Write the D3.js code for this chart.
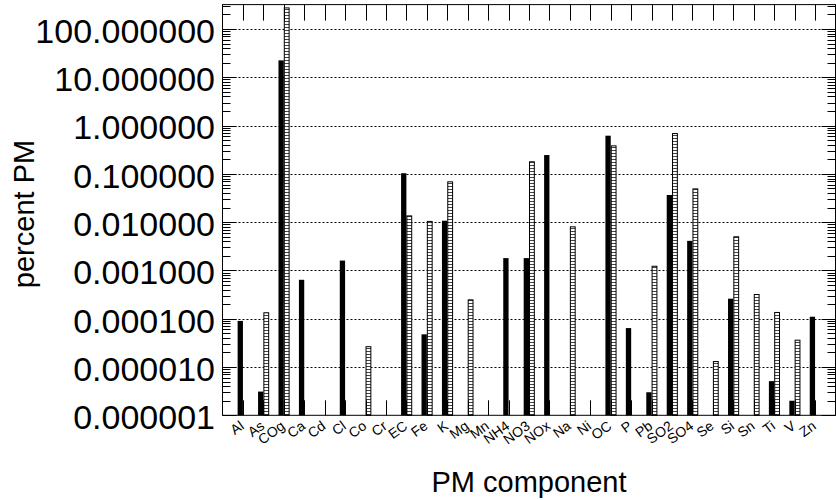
<!DOCTYPE html>
<html>
<head>
<meta charset="utf-8">
<script src="https://cdn.jsdelivr.net/npm/d3@7"></script>
<style>
  html, body { margin: 0; padding: 0; background: #fff; }
  svg { display: block; font-family: "Liberation Sans", Arial, sans-serif; }
</style>
</head>
<body>
<div id="chart"></div>
<script>
// ---- data ----
const categories = ["Al","As","COg","Ca","Cd","Cl","Co","Cr","EC","Fe","K","Mg","Mn","NH4","NO3","NOx","Na","Ni","OC","P","Pb","SO2","SO4","Se","Si","Sn","Ti","V","Zn"];
const solidValues = [9.0e-5, 3.1e-6, 22.4, 6.4e-4, null, 1.6e-3, null, null, 0.103, 4.75e-5, 0.0107, null, null, 1.8e-3, 1.8e-3, 0.245, null, null, 0.617, 6.4e-5, 3.0e-6, 0.0365, 0.0041, null, 2.6e-4, null, 5.1e-6, 2.0e-6, 1.1e-4];
const hatchedValues = [null, 1.36e-4, 280, null, null, null, 2.7e-5, null, 0.0138, 0.0106, 0.070, 2.52e-4, null, null, 0.182, null, 0.0082, null, 0.389, null, 1.25e-3, 0.70, 0.050, 1.33e-5, 0.0051, 3.25e-4, 1.38e-4, 3.68e-5, null];
const yTickValues = [1e2, 1e1, 1, 1e-1, 1e-2, 1e-3, 1e-4, 1e-5, 1e-6];
const yTickLabels = ["100.000000","10.000000","1.000000","0.100000","0.010000","0.001000","0.000100","0.000010","0.000001"];
const yDomain = [1e-6, 320];
const xTitle = "PM component";
const yTitle = "percent PM";

// ---- layout ----
const W = 836, H = 500;
const pLeft = 222.5, pRight = 835.5, pTop = 4.6, pBottom = 415.3;

const svg = d3.select("#chart").append("svg").attr("width", W).attr("height", H);

const x = d3.scalePoint().domain(categories).range([pLeft, pRight]).padding(1);
const y = d3.scaleLog().domain(yDomain).range([pBottom, pTop]);
const step = x.step();
const bw = step * 0.26;

const defs = svg.append("defs");
const pat = defs.append("pattern").attr("id", "hatch").attr("patternUnits", "userSpaceOnUse")
  .attr("width", 8).attr("height", 3);
pat.append("rect").attr("width", 8).attr("height", 3).attr("fill", "#fff");
pat.append("line").attr("x1", 0).attr("x2", 8).attr("y1", 0.5).attr("y2", 0.5)
  .attr("stroke", "#444").attr("stroke-width", 1);

// gridlines
const gridVals = yTickValues.filter(v => v > yDomain[0]);
svg.append("g").selectAll("line").data(gridVals).join("line")
  .attr("x1", pLeft).attr("x2", pRight)
  .attr("y1", d => Math.round(y(d)) + 0.5).attr("y2", d => Math.round(y(d)) + 0.5)
  .attr("stroke", "#000").attr("stroke-width", 1).attr("stroke-dasharray", "2,2");

// bars
const idx = d3.range(categories.length);
svg.append("g").selectAll("rect").data(idx.filter(i => solidValues[i] != null)).join("rect")
  .attr("x", i => x(categories[i]) - bw)
  .attr("width", bw)
  .attr("y", i => y(solidValues[i]))
  .attr("height", i => pBottom - y(solidValues[i]))
  .attr("fill", "#000");

svg.append("g").selectAll("rect").data(idx.filter(i => hatchedValues[i] != null)).join("rect")
  .attr("x", i => x(categories[i]) + 0.5)
  .attr("width", bw - 0.5)
  .attr("y", i => y(hatchedValues[i]) + 0.5)
  .attr("height", i => pBottom - y(hatchedValues[i]) - 0.5)
  .attr("fill", "url(#hatch)")
  .attr("stroke", "#000").attr("stroke-width", 1);

// minor ticks
const minorVals = [];
for (let d = -6; d <= 2; d++) for (let k = 2; k <= 9; k++) {
  const v = k * Math.pow(10, d);
  if (v <= yDomain[1]) minorVals.push(v);
}
const ticksG = svg.append("g").attr("stroke", "#000").attr("stroke-width", 1);
minorVals.forEach(v => {
  const yy = Math.round(y(v)) + 0.5;
  ticksG.append("line").attr("x1", pLeft).attr("x2", pLeft + 8).attr("y1", yy).attr("y2", yy);
  ticksG.append("line").attr("x1", pRight - 8).attr("x2", pRight).attr("y1", yy).attr("y2", yy);
});
yTickValues.forEach(v => {
  const yy = Math.round(y(v)) + 0.5;
  ticksG.append("line").attr("x1", pLeft).attr("x2", pLeft + 14).attr("y1", yy).attr("y2", yy);
  ticksG.append("line").attr("x1", pRight - 14).attr("x2", pRight).attr("y1", yy).attr("y2", yy);
});
// top and bottom category ticks
categories.forEach(c => {
  const xx = Math.round(x(c)) + 0.5;
  ticksG.append("line").attr("x1", xx).attr("x2", xx).attr("y1", pTop).attr("y2", pTop + 16);
  ticksG.append("line").attr("x1", xx).attr("x2", xx).attr("y1", pBottom - 15).attr("y2", pBottom);
});

// frame
svg.append("rect").attr("x", pLeft).attr("y", pTop).attr("width", pRight - pLeft).attr("height", pBottom - pTop)
  .attr("fill", "none").attr("stroke", "#000").attr("stroke-width", 1);

// y tick labels
svg.append("g").selectAll("text").data(yTickValues).join("text")
  .attr("x", 215).attr("y", d => y(d) + 2)
  .attr("dy", "0.35em")
  .attr("text-anchor", "end")
  .attr("font-size", 34)
  .attr("fill", "#000")
  .text((d, i) => yTickLabels[i]);

// x tick labels
svg.append("g").selectAll("text").data(categories).join("text")
  .attr("transform", d => `translate(${x(d) + 2},428) rotate(-36)`)
  .attr("text-anchor", "end")
  .attr("font-size", 14)
  .attr("fill", "#000")
  .text(d => d);

// axis titles
svg.append("text").attr("x", (pLeft + pRight) / 2).attr("y", 492)
  .attr("text-anchor", "middle").attr("font-size", 29).attr("fill", "#000").text(xTitle);
svg.append("text").attr("transform", `translate(34,${214}) rotate(-90)`)
  .attr("text-anchor", "middle").attr("font-size", 29).attr("fill", "#000").text(yTitle);
</script>
</body>
</html>
